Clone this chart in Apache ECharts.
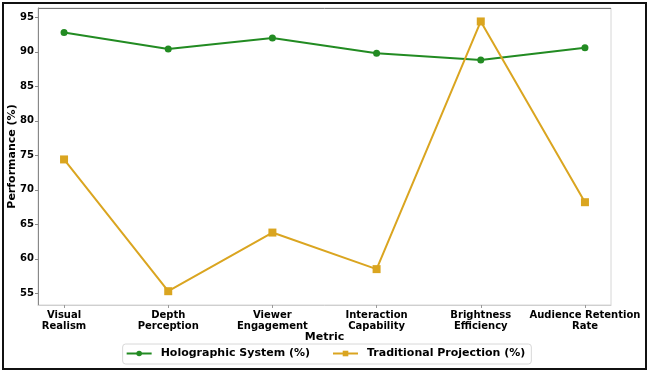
<!DOCTYPE html>
<html>
<head>
<meta charset="utf-8">
<script src="https://cdn.jsdelivr.net/npm/echarts@6/dist/echarts.min.js"></script>
<style>
html,body{margin:0;padding:0;background:#fff;}
#chartContainer{width:651px;height:377px;}
</style>
</head>
<body>
<div id="chartContainer"></div>
<script>
// categories and values
var metrics = ['Visual\nRealism', 'Depth\nPerception', 'Viewer\nEngagement', 'Interaction\nCapability', 'Brightness\nEfficiency', 'Audience Retention\nRate'];
var holographic = [92.8, 90.4, 92.0, 89.8, 88.8, 90.6];
var traditional = [74.4, 55.3, 63.8, 58.5, 94.4, 68.2];
var yTicks = [55, 60, 65, 70, 75, 80, 85, 90, 95];
var seriesNames = ['Holographic System (%)', 'Traditional Projection (%)'];

var FONT = 'DejaVu Sans';

function toPoints(arr){
	var out = [];
	for(var i = 0; i < arr.length; i++){
		out.push([i, arr[i]]);
	}
	return out;
}
var xIdx = [];
for(var k = 0; k < metrics.length; k++) xIdx.push(k);

var myChar = echarts.init(document.getElementById('chartContainer'), null, {renderer: 'canvas'});
var option = {
	animation: false,
	backgroundColor: '#fff',
	textStyle: {fontFamily: FONT},
	grid: {left: 38, right: 40, top: 8, bottom: 72, show: true, borderColor: '#d6d6d6', borderWidth: 1, containLabel: false, outerBoundsMode: 'none'},
	graphic: [
		//外框
		{type: 'rect', shape: {x: 3, y: 3, width: 643, height: 366}, style: {fill: null, stroke: '#111', lineWidth: 2}, silent: true},
		//顶部边线
		{type: 'line', shape: {x1: 38, y1: 8.5, x2: 611, y2: 8.5}, style: {stroke: '#777', lineWidth: 1}, silent: true}
	],
	xAxis: {
		type: 'value',
		min: -0.25,
		max: 5.25,
		name: 'Metric',
		nameLocation: 'middle',
		nameGap: 27,
		nameMoveOverlap: false,
		nameTextStyle: {fontFamily: FONT, fontWeight: 'bold', fontSize: 11, color: '#000', verticalAlign: 'top'},
		axisLine: {show: true, onZero: false, lineStyle: {color: '#cfcfcf', width: 1}},
		axisTick: {show: true, customValues: xIdx, length: 3, lineStyle: {color: '#999'}},
		splitLine: {show: false},
		axisLabel: {
			customValues: xIdx,
			margin: 5,
			fontFamily: FONT,
			fontWeight: 'bold',
			fontSize: 10,
			lineHeight: 11,
			color: '#000',
			formatter: function(v){ return metrics[Math.round(v)]; }
		}
	},
	yAxis: {
		type: 'value',
		min: 53.3,
		max: 96.35,
		name: 'Performance (%)',
		nameLocation: 'middle',
		nameGap: 20,
		nameMoveOverlap: false,
		nameTextStyle: {fontFamily: FONT, fontWeight: 'bold', fontSize: 11, color: '#000'},
		axisLine: {show: true, onZero: false, lineStyle: {color: '#888', width: 1}},
		axisTick: {show: true, customValues: yTicks, length: 3, lineStyle: {color: '#888'}},
		splitLine: {show: false},
		axisLabel: {
			customValues: yTicks,
			margin: 4,
			fontFamily: FONT,
			fontWeight: 'bold',
			fontSize: 10,
			color: '#000'
		}
	},
	legend: {
		data: seriesNames,
		top: 344,
		left: 'center',
		itemWidth: 25,
		itemHeight: 7,
		itemGap: 22,
		padding: [4, 6, 5, 3],
		borderColor: '#d8d8d8',
		borderWidth: 1,
		borderRadius: 3,
		textStyle: {fontFamily: FONT, fontWeight: 'bold', fontSize: 11, color: '#000', padding: [0, 0, 0, 4]}
	},
	series: [
		{
			name: seriesNames[0],
			type: 'line',
			data: toPoints(holographic),
			symbol: 'circle',
			symbolSize: 7,
			color: '#228B22',
			lineStyle: {width: 2, color: '#228B22'},
			itemStyle: {color: '#228B22'}
		},
		{
			name: seriesNames[1],
			type: 'line',
			data: toPoints(traditional),
			symbol: 'rect',
			symbolSize: 8,
			color: '#DAA520',
			lineStyle: {width: 2, color: '#DAA520'},
			itemStyle: {color: '#DAA520'}
		}
	]
};
myChar.setOption(option);
</script>
</body>
</html>
